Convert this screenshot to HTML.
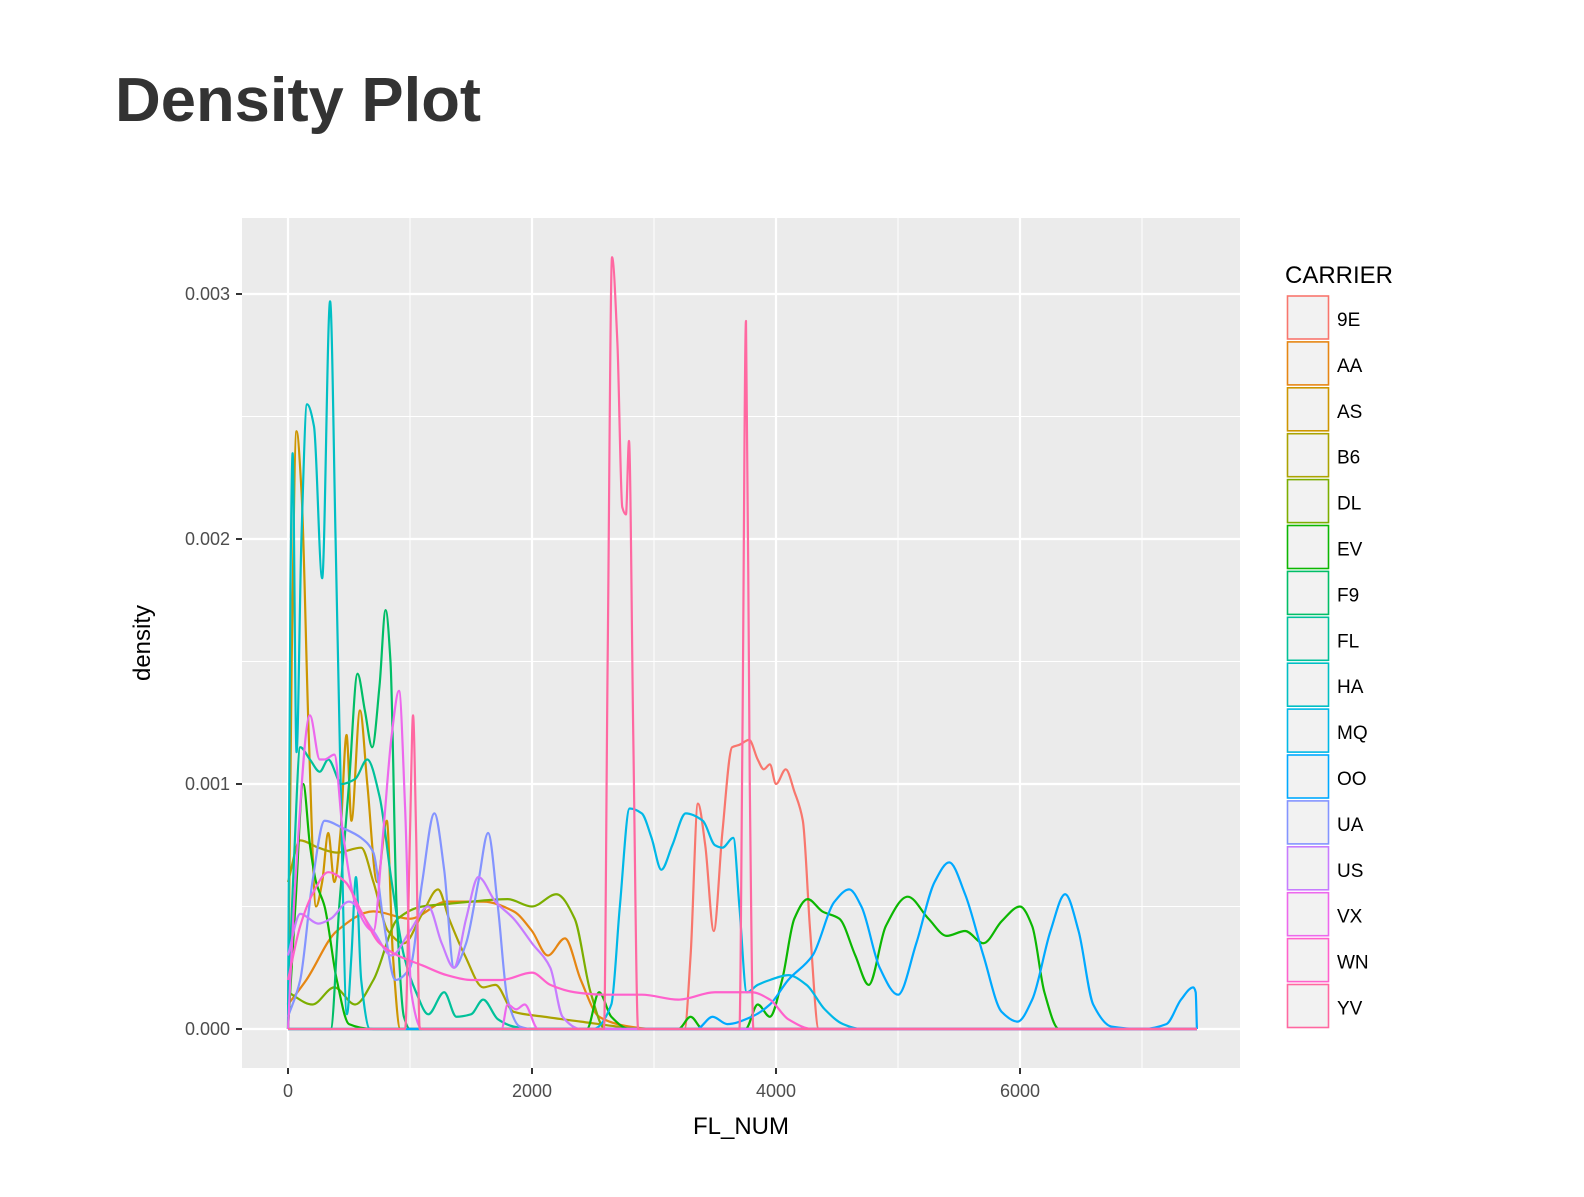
<!DOCTYPE html>
<html><head><meta charset="utf-8"><style>
body{margin:0;background:#fff;width:1584px;height:1192px;overflow:hidden;font-family:"Liberation Sans",sans-serif}
</style></head><body>
<svg id="chart" width="1584" height="1192" xmlns="http://www.w3.org/2000/svg" font-family="Liberation Sans, sans-serif">
<text x="115" y="121" font-size="62" font-weight="bold" fill="#333" textLength="366" lengthAdjust="spacingAndGlyphs">Density Plot</text>
<rect x="242" y="218" width="998" height="850" fill="#ebebeb"/>
<g id="grid"></g>
<g id="series"></g>
<g id="axes"></g>
<text x="741" y="1134" font-size="24" text-anchor="middle" fill="#000">FL_NUM</text>
<text transform="translate(150,643) rotate(-90)" font-size="24" text-anchor="middle" fill="#000">density</text>
<g id="legend">
<text x="1285" y="283" font-size="24" fill="#000">CARRIER</text>
</g>
</svg>
<script>
const carriers=["9E","AA","AS","B6","DL","EV","F9","FL","HA","MQ","OO","UA","US","VX","WN","YV"];
const colors=["#F8766D","#E68613","#CD9600","#ABA300","#7CAE00","#0CB702","#00BE67","#00C19A","#00BFC4","#00B8E7","#00A9FF","#8494FF","#C77CFF","#ED68ED","#FF61CC","#FF68A1"];
const xTicks=[0,2000,4000,6000];
const yTicks=[0,0.001,0.002,0.003];
const yTickLabels=["0.000","0.001","0.002","0.003"];
// density values in units of 0.001
const d9E=[[0,0],[3250,0],[3300,0.3],[3360,0.92],[3420,0.75],[3490,0.4],[3560,0.8],[3640,1.15],[3700,1.16],[3780,1.18],[3850,1.1],[3900,1.06],[3950,1.08],[4000,1.0],[4080,1.06],[4150,0.97],[4220,0.85],[4280,0.4],[4350,0],[7450,0]];
const dAA=[[0,0.1],[150,0.2],[400,0.4],[700,0.48],[1000,0.45],[1300,0.52],[1600,0.52],[1850,0.48],[2000,0.4],[2130,0.3],[2270,0.37],[2400,0.2],[2550,0.05],[2800,0.01],[3000,0],[7450,0]];
const dAS=[[0,0],[30,1.5],[70,2.44],[110,2.2],[170,1.2],[230,0.5],[280,0.6],[330,0.8],[380,0.6],[430,0.8],[480,1.2],[520,0.85],[590,1.3],[650,1.0],[730,0.6],[810,0.85],[860,0.3],[920,0],[7450,0]];
const dB6=[[0,0.6],[100,0.77],[250,0.74],[400,0.72],[600,0.74],[700,0.6],[820,0.4],[950,0.35],[1100,0.47],[1230,0.57],[1320,0.45],[1450,0.3],[1600,0.17],[1700,0.18],[1850,0.07],[2100,0.05],[2400,0.03],[2700,0.01],[2900,0],[7450,0]];
const dDL=[[0,0.15],[200,0.1],[380,0.17],[550,0.1],[700,0.2],[900,0.45],[1100,0.5],[1300,0.51],[1500,0.52],[1800,0.53],[2000,0.5],[2200,0.55],[2350,0.45],[2480,0.15],[2600,0],[7450,0]];
const dEV=[[0,0],[60,0.5],[125,1.0],[180,0.75],[230,0.6],[300,0.5],[400,0.2],[500,0.02],[700,0],[2450,0],[2550,0.15],[2650,0.05],[2800,0],[3200,0],[3300,0.05],[3400,0],[3750,0],[3850,0.1],[3950,0.05],[4050,0.2],[4150,0.45],[4260,0.53],[4380,0.48],[4520,0.45],[4650,0.3],[4760,0.18],[4900,0.42],[5080,0.54],[5250,0.45],[5400,0.38],[5550,0.4],[5700,0.35],[5850,0.44],[6000,0.5],[6100,0.42],[6200,0.15],[6320,0],[7450,0]];
const dF9=[[0,0],[350,0],[420,0.5],[500,1.0],[570,1.45],[630,1.3],[690,1.15],[750,1.4],[800,1.71],[840,1.5],[890,0.5],[950,0.05],[1000,0],[7450,0]];
const dFL=[[0,0.1],[50,0.7],[100,1.15],[180,1.1],[260,1.05],[330,1.1],[440,1.0],[550,1.02],[650,1.1],[750,0.95],[850,0.6],[950,0.3],[1050,0.15],[1150,0.06],[1280,0.15],[1380,0.05],[1500,0.06],[1600,0.12],[1720,0.04],[1850,0.01],[2000,0],[7450,0]];
const dHA=[[0,0],[20,1.8],[38,2.35],[70,1.13],[110,2.0],[156,2.55],[213,2.46],[280,1.84],[345,2.97],[390,2.0],[426,1.13],[483,0.06],[520,0.3],[557,0.62],[600,0.2],[672,0],[7450,0]];
const dMQ=[[0,0],[2500,0],[2650,0.1],[2720,0.5],[2800,0.9],[2900,0.88],[2980,0.78],[3060,0.65],[3150,0.75],[3260,0.88],[3400,0.85],[3500,0.75],[3560,0.74],[3650,0.78],[3700,0.5],[3760,0.15],[3850,0.18],[3950,0.2],[4100,0.22],[4250,0.18],[4400,0.08],[4550,0.02],[4700,0],[7450,0]];
const dOO=[[0,0],[3350,0],[3480,0.05],[3600,0.02],[3800,0.05],[3950,0.1],[4100,0.2],[4300,0.3],[4480,0.52],[4600,0.57],[4700,0.5],[4850,0.25],[5000,0.14],[5150,0.35],[5300,0.6],[5420,0.68],[5550,0.55],[5700,0.3],[5850,0.07],[5980,0.03],[6100,0.12],[6250,0.4],[6370,0.55],[6480,0.4],[6600,0.1],[6750,0.01],[7000,0],[7200,0.02],[7320,0.12],[7420,0.17],[7440,0.15],[7450,0]];
const dUA=[[0,0.05],[100,0.2],[200,0.6],[300,0.85],[450,0.82],[600,0.78],[700,0.72],[780,0.45],[880,0.2],[1000,0.25],[1100,0.6],[1200,0.88],[1280,0.65],[1360,0.25],[1460,0.35],[1560,0.6],[1640,0.8],[1720,0.5],[1800,0.12],[1900,0.01],[2000,0],[7450,0]];
const dUS=[[0,0.3],[100,0.47],[250,0.43],[350,0.45],[500,0.52],[700,0.4],[850,0.3],[1000,0.4],[1150,0.5],[1260,0.35],[1360,0.25],[1460,0.45],[1560,0.62],[1700,0.52],[1850,0.45],[2000,0.35],[2150,0.25],[2250,0.05],[2400,0],[7450,0]];
const dVX=[[0,0],[60,0.6],[180,1.28],[260,1.1],[300,1.1],[380,1.12],[450,0.8],[560,0.5],[700,0.4],[780,0.8],[850,1.2],[910,1.38],[960,0.9],[1010,0.15],[1100,0],[1750,0],[1800,0.1],[1870,0.08],[1940,0.1],[2050,0],[7450,0]];
const dWN=[[0,0.2],[100,0.42],[200,0.55],[330,0.64],[470,0.6],[600,0.48],[750,0.35],[900,0.3],[1100,0.26],[1300,0.22],[1500,0.2],[1750,0.2],[2000,0.23],[2150,0.18],[2350,0.15],[2600,0.14],[2900,0.14],[3200,0.12],[3500,0.15],[3800,0.15],[3950,0.12],[4100,0.04],[4300,0],[7450,0]];
const dYV=[[0,0],[960,0],[1000,0.8],[1025,1.28],[1050,0.8],[1080,0],[2590,0],[2620,1.5],[2656,3.15],[2700,2.8],[2740,2.13],[2770,2.1],[2795,2.4],[2830,1.2],[2870,0],[3700,0],[3725,1.2],[3754,2.89],[3785,1.0],[3815,0],[7450,0]];
const seriesData=[d9E,dAA,dAS,dB6,dDL,dEV,dF9,dFL,dHA,dMQ,dOO,dUA,dUS,dVX,dWN,dYV];

const X0=288,XS=0.122,Y0=1029,YS=245000;
const xScale=v=>X0+v*XS;
const yScale=v=>Y0-v*YS;
const NS="http://www.w3.org/2000/svg";
function mk(tag,attrs,parent){const e=document.createElementNS(NS,tag);for(const k in attrs)e.setAttribute(k,attrs[k]);parent.appendChild(e);return e;}
const grid=document.getElementById('grid');
[1000,3000,5000,7000].forEach(v=>{const l=mk('line',{x1:xScale(v),x2:xScale(v),y1:218,y2:1068,stroke:'#fff','stroke-width':1},grid);});
[0.0005,0.0015,0.0025].forEach(v=>{const l=mk('line',{x1:242,x2:1240,y1:yScale(v),y2:yScale(v),stroke:'#fff','stroke-width':1},grid);});
const axes=document.getElementById('axes');
xTicks.forEach(v=>{const l=mk('line',{x1:xScale(v),x2:xScale(v),y1:218,y2:1068,stroke:'#fff','stroke-width':2.2},grid);
 const t=mk('line',{x1:xScale(v),x2:xScale(v),y1:1068,y2:1074,stroke:'#333','stroke-width':2},axes);
 const tx=mk('text',{x:xScale(v),y:1097,'font-size':18,'text-anchor':'middle',fill:'#4d4d4d'},axes);tx.textContent=v;});
yTicks.forEach((v,i)=>{const l=mk('line',{x1:242,x2:1240,y1:yScale(v),y2:yScale(v),stroke:'#fff','stroke-width':2.2},grid);
 const t=mk('line',{x1:236,x2:242,y1:yScale(v),y2:yScale(v),stroke:'#333','stroke-width':2},axes);
 const tx=mk('text',{x:230,y:yScale(v)+6,'font-size':18,'text-anchor':'end',fill:'#4d4d4d'},axes);tx.textContent=yTickLabels[i];});
function monotonePath(pts){
 const n=pts.length,x=pts.map(p=>p[0]),y=pts.map(p=>p[1]);
 const d=[],m=[];for(let i=0;i<n-1;i++)d.push((y[i+1]-y[i])/(x[i+1]-x[i]));
 m[0]=d[0];m[n-1]=d[n-2];
 for(let i=1;i<n-1;i++){if(d[i-1]*d[i]<=0)m[i]=0;else{const w1=2*(x[i+1]-x[i])+(x[i]-x[i-1]),w2=(x[i+1]-x[i])+2*(x[i]-x[i-1]);m[i]=(w1+w2)/(w1/d[i-1]+w2/d[i]);}}
 let s='M'+xScale(x[0])+','+yScale(y[0]*0.001);
 for(let i=0;i<n-1;i++){const h=x[i+1]-x[i];
  s+='C'+xScale(x[i]+h/3)+','+yScale((y[i]+m[i]*h/3)*0.001)+' '+xScale(x[i+1]-h/3)+','+yScale((y[i+1]-m[i+1]*h/3)*0.001)+' '+xScale(x[i+1])+','+yScale(y[i+1]*0.001);}
 return s;}
const sg=document.getElementById('series'),lg=document.getElementById('legend');
seriesData.forEach((pts,i)=>{
 const p=mk('path',{d:monotonePath(pts),fill:'none',stroke:colors[i],'stroke-width':2.2,'stroke-linejoin':'round'},sg);
 
 
 const ky=296+i*45.9;
 const r=mk('rect',{x:1287.5,y:ky,width:41,height:43,fill:'#f2f2f2',stroke:colors[i],'stroke-width':1.6},lg);
 
 
 const t=mk('text',{x:1337,y:ky+30,'font-size':19,fill:'#000'},lg);t.textContent=carriers[i];
 
 
});
</script>
</body></html>
